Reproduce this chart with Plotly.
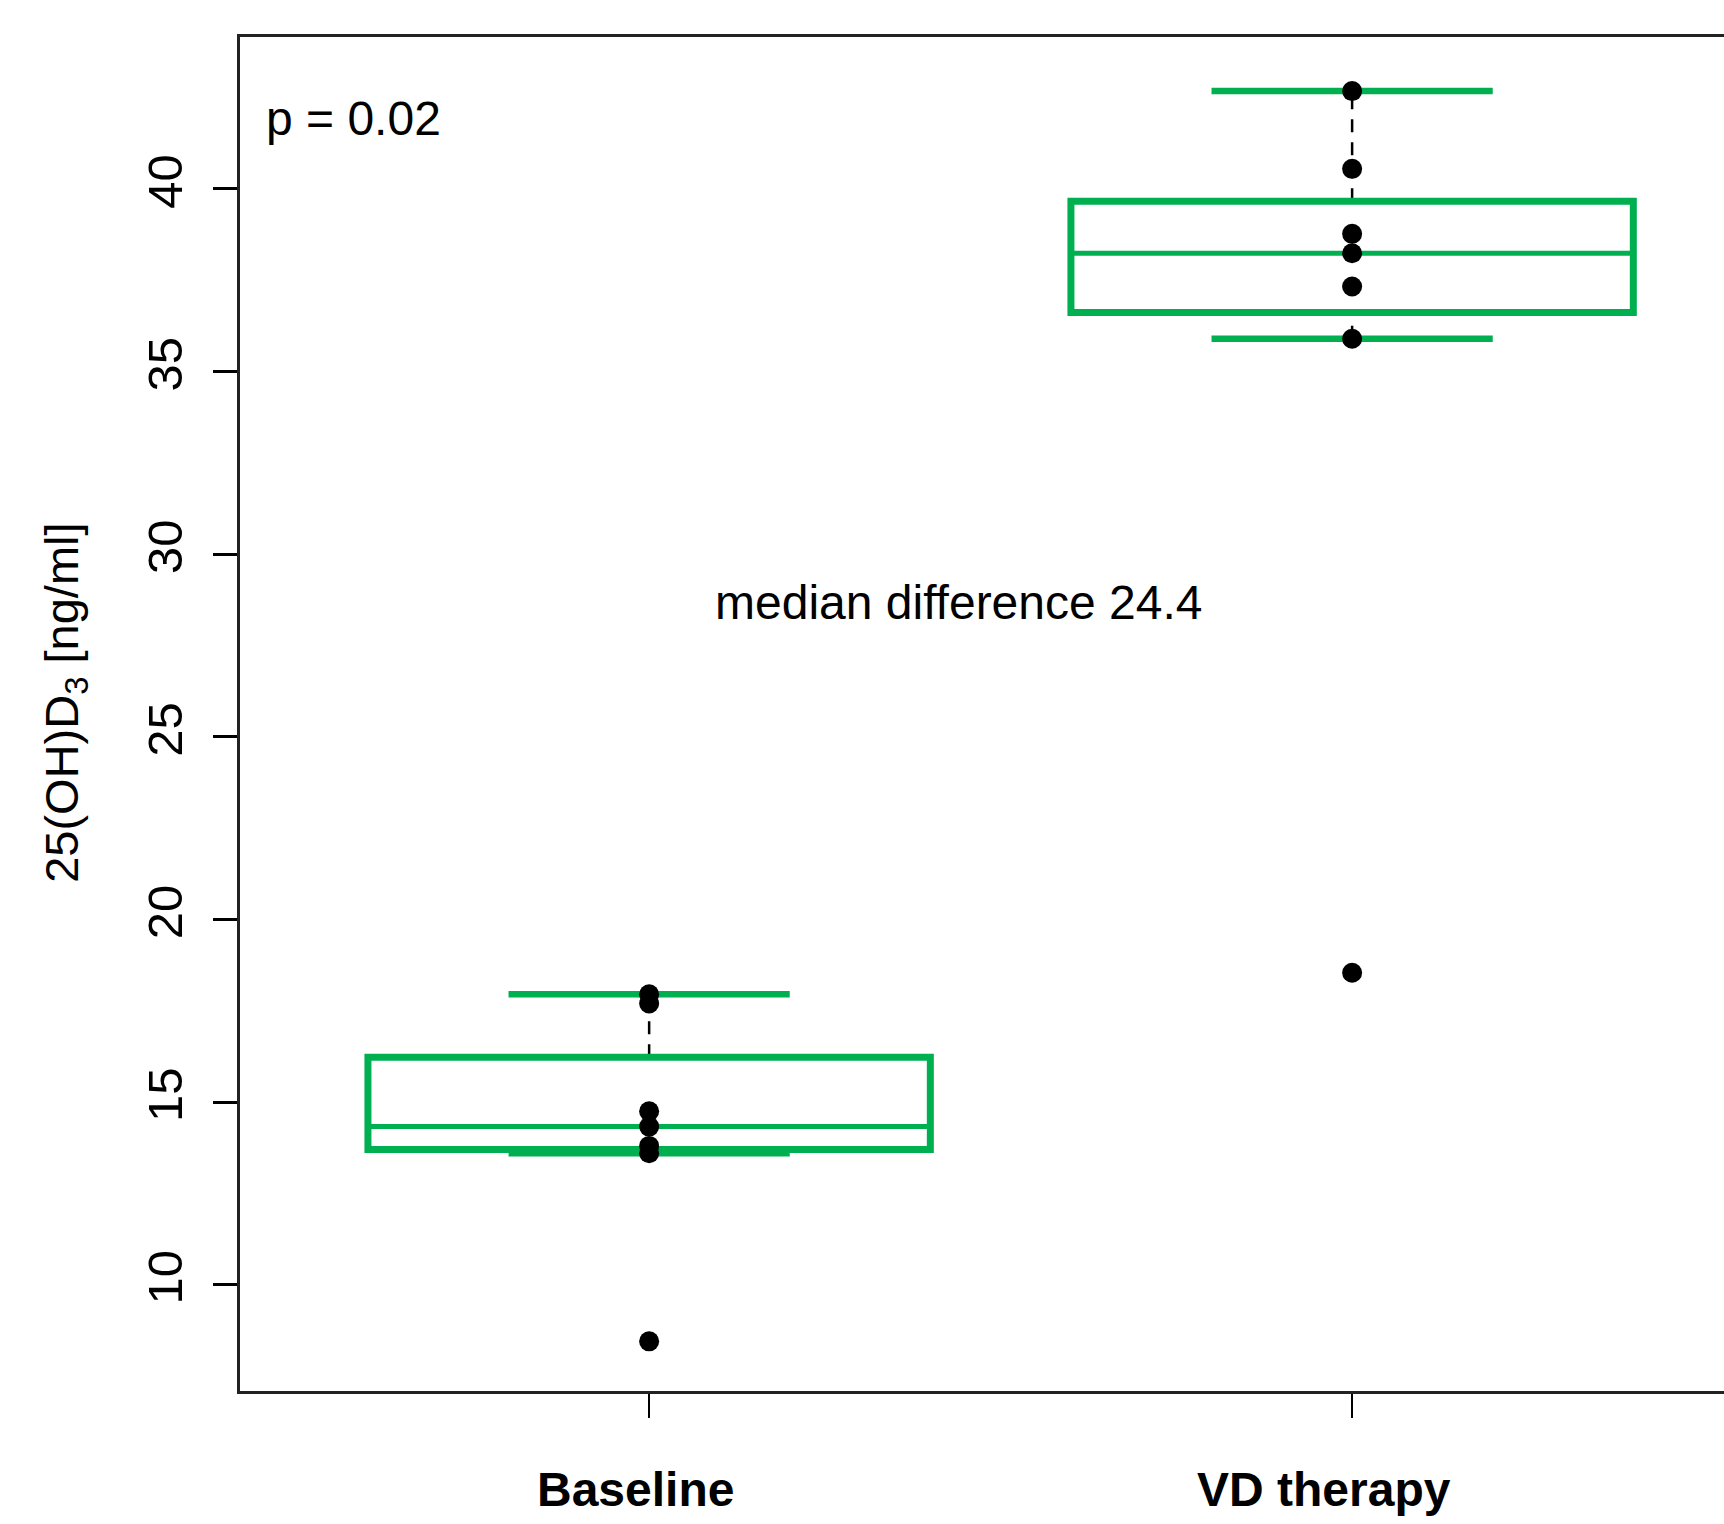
import numpy as np
import plotly.graph_objects as go

# ---- data ----
categories = ["Baseline", "VD therapy"]
baseline_values = [8.45, 13.6, 13.8, 14.33, 14.75, 17.7, 17.95]
vd_values = [18.54, 35.9, 37.33, 38.24, 38.77, 40.55, 42.68]
p_text = "p = 0.02"
diff_text = "median difference 24.4"
y_ticks = [10, 15, 20, 25, 30, 35, 40]

GREEN = "#00B050"
FONT = "Liberation Sans, Arial, sans-serif"


def fivenum(v):
    v = np.sort(np.asarray(v, dtype=float))
    n = len(v)
    n4 = np.floor((n + 3) / 2) / 2
    d = np.array([1, n4, (n + 1) / 2, n + 1 - n4, n]) - 1
    return 0.5 * (v[np.floor(d).astype(int)] + v[np.ceil(d).astype(int)])


def box_stats(v):
    v = np.asarray(v, dtype=float)
    mn, q1, med, q3, mx = fivenum(v)
    iqr = q3 - q1
    lo_f, hi_f = q1 - 1.5 * iqr, q3 + 1.5 * iqr
    inside = v[(v >= lo_f) & (v <= hi_f)]
    return q1, med, q3, inside.min(), inside.max()


fig = go.Figure()
groups = [baseline_values, vd_values]
half_box = 0.4
half_staple = 0.2

for i, vals in enumerate(groups):
    xc = i + 1
    q1, med, q3, wlo, whi = box_stats(vals)
    # dashed whiskers
    fig.add_trace(go.Scatter(x=[xc, xc], y=[q3, whi], mode="lines",
                             line=dict(color="black", width=2.5, dash="13px,10px"),
                             showlegend=False, hoverinfo="skip"))
    fig.add_trace(go.Scatter(x=[xc, xc], y=[wlo, q1], mode="lines",
                             line=dict(color="black", width=2.5, dash="13px,10px"),
                             showlegend=False, hoverinfo="skip"))
    # staples
    for yv in (whi, wlo):
        fig.add_trace(go.Scatter(x=[xc - half_staple, xc + half_staple], y=[yv, yv], mode="lines",
                                 line=dict(color=GREEN, width=6.5),
                                 showlegend=False, hoverinfo="skip"))
    # box (path overlaps its first side so the closing corner is filled)
    xl, xr = xc - half_box, xc + half_box
    fig.add_trace(go.Scatter(x=[xl, xr, xr, xl, xl, xr],
                             y=[q1, q1, q3, q3, q1, q1], mode="lines",
                             line=dict(color=GREEN, width=7),
                             showlegend=False, hoverinfo="skip"))
    # median
    fig.add_trace(go.Scatter(x=[xl, xr], y=[med, med], mode="lines",
                             line=dict(color=GREEN, width=5),
                             showlegend=False, hoverinfo="skip"))

for i, vals in enumerate(groups):
    fig.add_trace(go.Scatter(x=[i + 1] * len(vals), y=vals, mode="markers",
                             marker=dict(color="black", size=20),
                             showlegend=False, hoverinfo="skip"))

annotations = [
    dict(x=0.4524, y=41.93, xref="x", yref="y", text=p_text, showarrow=False,
         xanchor="left", yanchor="middle", font=dict(family=FONT, size=48, color="black")),
    dict(x=1.44, y=28.67, xref="x", yref="y", text=diff_text, showarrow=False,
         xanchor="center", yanchor="middle", font=dict(family=FONT, size=48, color="black")),
    dict(x=0, y=25.93, xref="paper", yref="y", xshift=-175, text="25(OH)D<sub>3</sub> [ng/ml]",
         textangle=-90, showarrow=False, xanchor="center", yanchor="middle",
         font=dict(family=FONT, size=47, color="black")),
]
label_x = [0.981, 1.96]
for lx, cat in zip(label_x, categories):
    annotations.append(dict(x=lx, y=0, xref="x", yref="paper", yshift=-98, text="<b>%s</b>" % cat,
                            showarrow=False, xanchor="center", yanchor="middle",
                            font=dict(family=FONT, size=48, color="black")))

fig.update_layout(
    width=1724, height=1524,
    margin=dict(l=240, r=0, t=37, b=133, pad=0),
    paper_bgcolor="white", plot_bgcolor="white",
    annotations=annotations,
    xaxis=dict(range=[0.418, 2.529], tickvals=[1, 2], showticklabels=False,
               ticks="outside", ticklen=24, tickwidth=2, tickcolor="black",
               showline=True, linecolor="#222", linewidth=2.5, mirror=True,
               showgrid=False, zeroline=False),
    yaxis=dict(range=[7.09, 44.16], tickvals=y_ticks, ticktext=[str(t) for t in y_ticks],
               ticks="outside", ticklen=24, tickwidth=2.5, tickcolor="black",
               tickangle=-90, tickfont=dict(family=FONT, size=49, color="black"),
               ticklabelstandoff=12,
               showline=True, linecolor="#222", linewidth=2.5, mirror=False,
               showgrid=False, zeroline=False),
)

fig.write_html(
    "out.html",
    config={"displayModeBar": False},
    post_script="document.body.style.margin='0';document.body.style.overflow='hidden';",
)
